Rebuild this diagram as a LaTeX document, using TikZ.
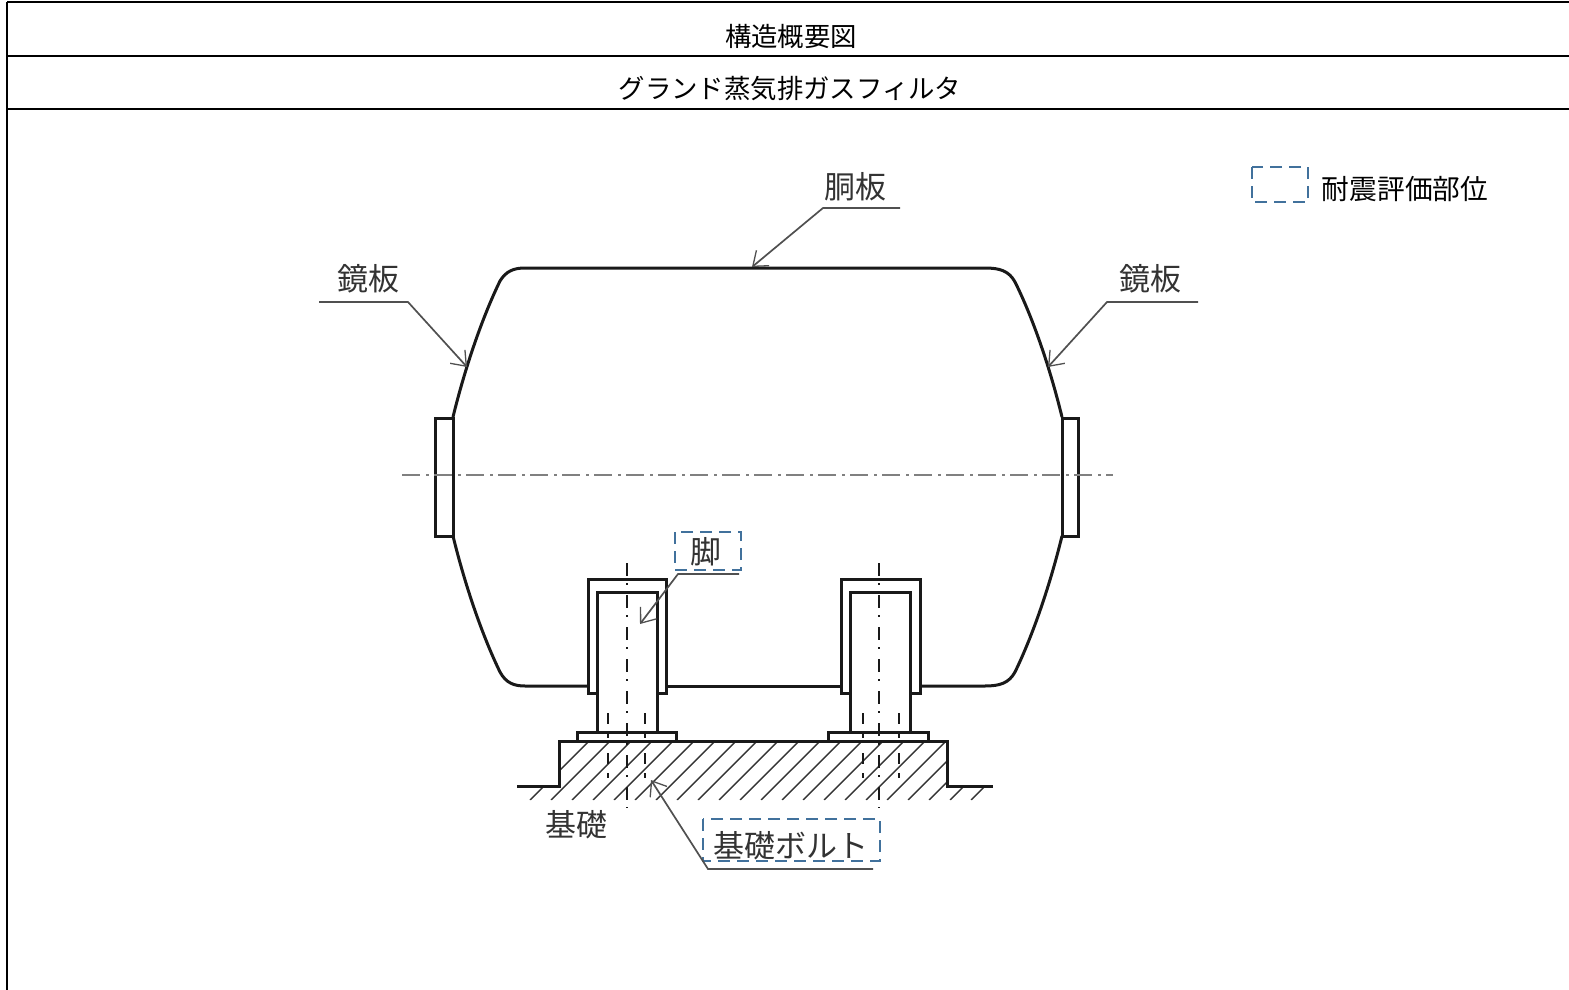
\documentclass[tikz,border=0pt]{standalone}
\usepackage{fontspec}
\setmainfont{Noto Sans CJK JP}
\usetikzlibrary{arrows.meta}
\definecolor{boxblue}{HTML}{41719C}
\definecolor{leadergray}{HTML}{505050}
\definecolor{axisgray}{HTML}{808080}
\tikzset{
  rule/.style={line width=2pt,black},
  outline/.style={line width=3pt,black!90},
  leader/.style={line width=1.7pt,leadergray,-{Straight Barb[length=13pt,width=20pt,line width=1.3pt]}},
  hatching/.style={line width=1.4pt,black!80},
  axis/.style={line width=2.4pt,axisgray,dash pattern=on 18pt off 6pt on 3pt off 5pt},
  legaxis/.style={line width=2.6pt,black!90,dash pattern=on 13pt off 7pt on 2pt off 10pt},
  boltaxis/.style={line width=2.6pt,black!90,dash pattern=on 11pt off 9pt on 5pt off 15pt},
  evalbox/.style={line width=2pt,boxblue,dash pattern=on 12pt off 7pt},
  headtext/.style={font=\fontsize{26.4}{30}\selectfont,text=black,inner sep=0pt},
  legendtext/.style={font=\fontsize{27.7}{32}\selectfont,text=black,inner sep=0pt},
  parttext/.style={font=\fontsize{31}{35}\selectfont,text=black!80,inner sep=0pt},
}
\begin{document}
\begin{tikzpicture}[x=1pt,y=-1pt]
    \useasboundingbox (0,0) rectangle (1569,990);
    % table
    \coordinate(T0) at (7,2);
    \coordinate(T1) at (1569,2);
    \coordinate(T2) at (7,56);
    \coordinate(T3) at (1569,56);
    \coordinate(T4) at (7,109);
    \coordinate(T5) at (1569,109);
    \coordinate(T6) at (7,990);
    \foreach \x/\y in{T0/T1,T2/T3,T4/T5,T0/T6}{
      \draw[rule](\x)--(\y);
    }
    \node[headtext] (title) at (791,36) {構造概要図};
    \node[headtext] (subtitle) at (790,89) {グランド蒸気排ガスフィルタ};
    % legend
    \draw[evalbox] (1252,167) rectangle (1308,202);
    \node[legendtext] (legend) at (1405,189) {耐震評価部位};
    % vessel
    \draw[outline] (453,417) .. controls (465,368) and (482,318) .. (500,281)
      .. controls (506,271) and (514,268) .. (525,268) -- (985,268)
      .. controls (1000,268) and (1009,271) .. (1015,282)
      .. controls (1033,318) and (1050,368) .. (1062,417);
    \draw[outline] (453,536) .. controls (465,585) and (482,635) .. (500,672)
      .. controls (506,683) and (514,686) .. (525,686) -- (588,686);
    \draw[outline] (666,686) -- (841,686);
    \draw[outline] (920,686) -- (985,686)
      .. controls (1000,686) and (1009,683) .. (1015,672)
      .. controls (1033,635) and (1050,585) .. (1062,536);
    \draw[outline] (435,418) rectangle (453,536);
    \draw[outline] (1062,418) rectangle (1078,536);
    \draw[axis] (402,475) -- (1113,475);
    % foundation
    \begin{scope}
      \clip (528,786) -- (559,786) -- (559,740) -- (947,740) -- (947,786)
        -- (985,786) -- (985,800) -- (528,800) -- cycle;
      \foreach \i in {0,...,24}{
        \draw[hatching] (530+21*\i,800) -- ++(64,-64);
      }
    \end{scope}
    \draw[outline] (517,786) -- (559,786) -- (559,741) -- (947,741) -- (947,786) -- (993,786);
    % legs
    \foreach \dx/\wd in {0/0,253/1}{
      \begin{scope}[shift={(\dx,0)}]
        \draw[outline] (597,693) -- (588,693) -- (588,579) -- (666+\wd,579) -- (666+\wd,693) -- (657,693);
        \draw[outline] (597,732) -- (597,592) -- (657,592) -- (657,732);
        \draw[outline] (577-2*\wd,732) rectangle (676-\wd,741);
        \draw[legaxis] (627-\wd,563) -- (627-\wd,808);
        \draw[boltaxis] (608+2*\wd,713) -- (608+2*\wd,778);
        \draw[boltaxis] (645+\wd,713) -- (645+\wd,778);
      \end{scope}
    }
    % labels and leaders
    \node[parttext] (shell) at (855,187) {胴板};
    \node[parttext] (headL) at (368,279) {鏡板};
    \node[parttext] (headR) at (1150,279) {鏡板};
    \node[parttext] (leg) at (706,552) {脚};
    \node[parttext] (base) at (576,825) {基礎};
    \node[parttext] (bolt) at (791,846) {基礎ボルト};
    \draw[evalbox] (675,532) rectangle (741,570);
    \draw[evalbox] (703,819) rectangle (880,861);
    \coordinate(S0) at (900,208);
    \coordinate(S1) at (823,208);
    \coordinate(S2) at (752,267);
    \coordinate(L0) at (319,302);
    \coordinate(L1) at (408,302);
    \coordinate(L2) at (467,367);
    \coordinate(R0) at (1198,302);
    \coordinate(R1) at (1107,302);
    \coordinate(R2) at (1048,367);
    \coordinate(F0) at (739,574);
    \coordinate(F1) at (678,574);
    \coordinate(F2) at (640,624);
    \coordinate(B0) at (873,869);
    \coordinate(B1) at (708,869);
    \coordinate(B2) at (651,780);
    \foreach \p/\q/\r in {S0/S1/S2,L0/L1/L2,R0/R1/R2,F0/F1/F2,B0/B1/B2}{
      \draw[leader] (\p) -- (\q) -- (\r);
    }
  \end{tikzpicture}
\end{document}
